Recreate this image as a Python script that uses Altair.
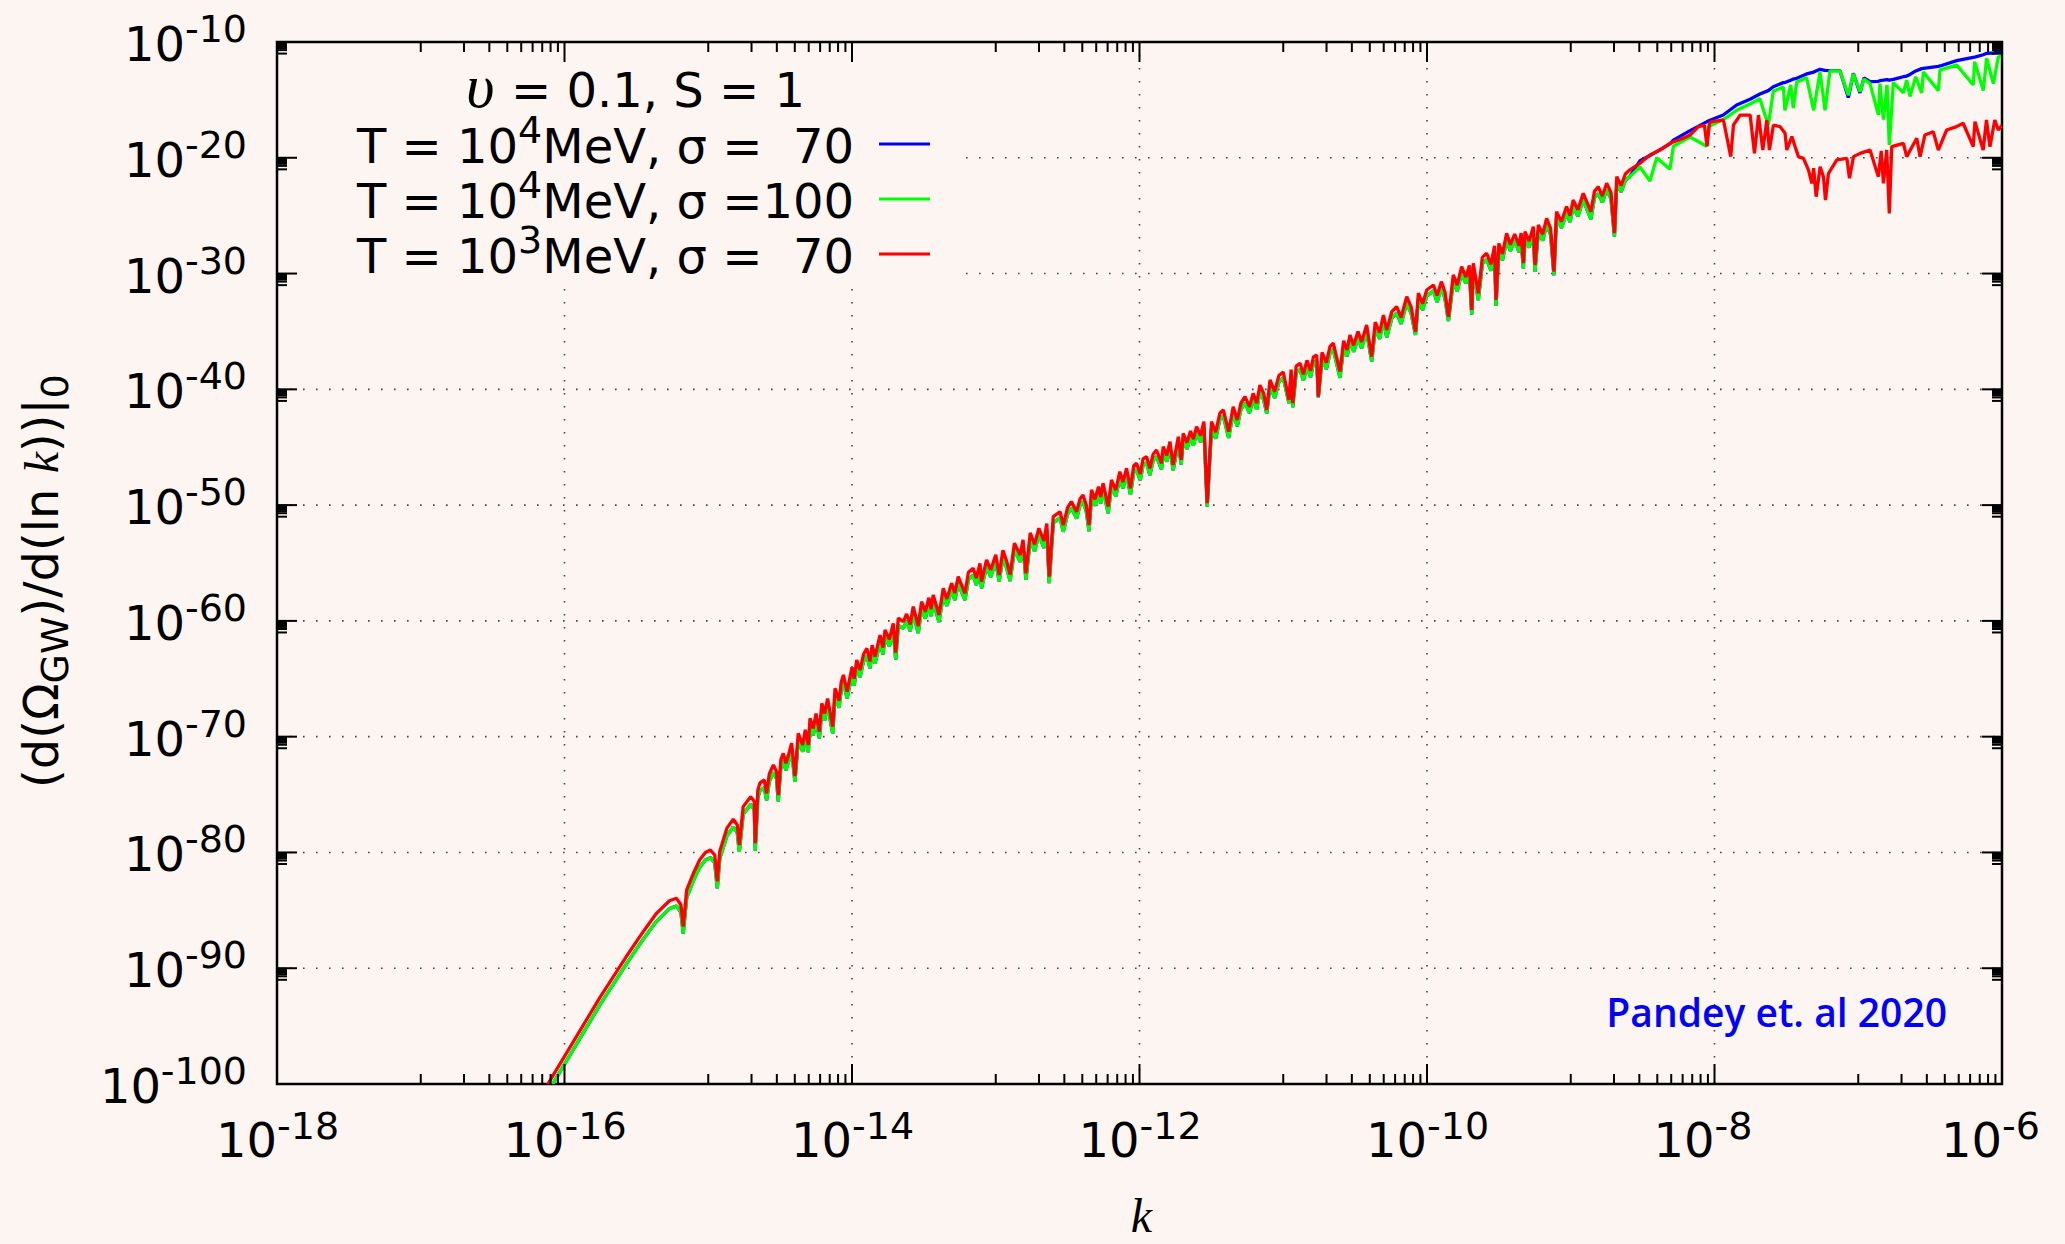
import altair as alt
import pandas as pd

# ---------------------------------------------------------------------------
# Spectrum d(Omega_GW)/d(ln k) today, stored as log10 values.
# Region A: red and green share sample positions; blue coincides with green.
# ---------------------------------------------------------------------------
K_A = [
    -16.13, -15.75, -15.57, -15.45, -15.36, -15.27, -15.22, -15.19,
    -15.174, -15.15, -15.10, -15.06, -15.02, -14.985, -14.955, -14.937,
    -14.92, -14.87, -14.826, -14.798, -14.784, -14.757, -14.705, -14.68,
    -14.673, -14.655, -14.64, -14.61, -14.594, -14.575, -14.547, -14.525,
    -14.513, -14.495, -14.478, -14.46, -14.44, -14.42, -14.397, -14.374,
    -14.343, -14.325, -14.304, -14.292, -14.27, -14.25, -14.227, -14.21,
    -14.19, -14.17, -14.134, -14.118, -14.09, -14.075, -14.06, -14.034,
    -14.0, -13.985, -13.967, -13.944, -13.92, -13.897, -13.875, -13.86,
    -13.84, -13.805, -13.785, -13.77, -13.74, -13.713, -13.696, -13.678,
    -13.643, -13.62, -13.595, -13.574, -13.539, -13.516, -13.49, -13.465,
    -13.45, -13.435, -13.395, -13.365, -13.34, -13.307, -13.285, -13.261,
    -13.214, -13.19, -13.157, -13.135, -13.11, -13.099, -13.064, -13.035,
    -13.0, -12.976, -12.95, -12.925, -12.9, -12.87, -12.83, -12.81,
    -12.79, -12.76, -12.73, -12.7, -12.665, -12.645, -12.628, -12.6,
    -12.553, -12.53, -12.5, -12.474, -12.437, -12.415, -12.393, -12.37,
    -12.351, -12.334, -12.31, -12.285, -12.27, -12.253, -12.218, -12.195,
    -12.165, -12.137, -12.115, -12.09, -12.063, -12.04, -12.021, -11.995,
    -11.975, -11.951, -11.928, -11.905, -11.882, -11.847, -11.835, -11.81,
    -11.788, -11.766, -11.73, -11.71, -11.696, -11.67, -11.645, -11.625,
    -11.603, -11.575, -11.552, -11.529, -11.499, -11.47, -11.441, -11.417,
    -11.38, -11.348, -11.32, -11.295, -11.266, -11.235, -11.209, -11.185,
    -11.162, -11.135, -11.115, -11.092, -11.06, -11.03, -11.0, -10.96,
    -10.945, -10.934, -10.91, -10.883, -10.86, -10.835, -10.81, -10.79,
    -10.767, -10.756, -10.73, -10.7, -10.675, -10.652, -10.605, -10.58,
    -10.556, -10.536, -10.51, -10.48, -10.455, -10.42, -10.385, -10.36,
    -10.33, -10.303, -10.28, -10.245, -10.211, -10.18, -10.141, -10.11,
    -10.08, -10.06, -10.03, -10.002, -9.955, -9.93, -9.9, -9.875,
    -9.851, -9.817, -9.79, -9.759, -9.73, -9.705, -9.689, -9.678,
    -9.643, -9.615, -9.585, -9.555, -9.53, -9.52, -9.5, -9.475,
    -9.446, -9.42, -9.39, -9.36, -9.345, -9.33, -9.318, -9.29,
    -9.26, -9.249, -9.225, -9.195, -9.168, -9.14, -9.117, -9.099,
    -9.065, -9.029, -9.005, -8.983, -8.95, -8.913, -8.86, -8.835,
    -8.809, -8.78, -8.75, -8.72, -8.696, -8.68, -8.65, -8.62,
    -8.591,
]
RED_A = [
    -100.3, -92.45, -88.99, -86.8, -85.26, -84.17, -83.96, -84.54,
    -86.4, -83.24, -81.7, -80.65, -80.0, -79.79, -80.22, -82.5,
    -79.9, -77.9, -77.13, -77.63, -79.36, -76.05, -75.18, -75.6,
    -79.2, -74.6, -74.0, -73.74, -74.9, -73.2, -72.45, -73.0,
    -75.04, -72.0, -71.44, -72.3, -71.5, -70.57, -73.4, -69.71,
    -70.72, -69.4, -70.72, -68.41, -69.3, -68.0, -69.57, -67.12,
    -68.0, -66.7, -69.14, -65.82, -66.9, -65.3, -64.67, -66.11,
    -64.0, -65.0, -63.38, -64.24, -62.9, -62.37, -63.5, -62.1,
    -63.09, -61.22, -62.3, -60.79, -61.6, -60.21, -62.75, -59.77,
    -60.07, -59.4, -60.3, -58.77, -60.44, -58.34, -59.2, -58.0,
    -59.0, -57.76, -59.49, -57.19, -58.1, -56.75, -57.6, -56.18,
    -57.62, -55.8, -55.46, -56.3, -55.03, -56.61, -54.74, -55.6,
    -54.3, -56.04, -53.9, -54.8, -56.0, -53.3, -54.3, -53.0,
    -55.89, -52.4, -53.4, -52.0, -53.1, -51.6, -56.18, -51.0,
    -50.57, -51.72, -50.2, -49.7, -50.57, -49.5, -49.13, -50.0,
    -51.72, -48.69, -49.5, -48.4, -49.3, -48.11, -50.13, -47.83,
    -48.7, -47.11, -48.0, -46.82, -48.55, -46.6, -46.39, -47.3,
    -46.0, -45.81, -46.82, -45.6, -45.24, -46.39, -44.95, -45.7,
    -44.52, -46.53, -44.09, -46.1, -43.8, -44.6, -43.6, -44.3,
    -43.22, -44.0, -42.79, -49.84, -42.79, -43.7, -42.07, -41.78,
    -43.66, -41.5, -42.65, -41.2, -40.63, -41.5, -40.35, -41.2,
    -39.63, -40.4, -41.78, -39.19, -40.2, -38.8, -38.5, -40.92,
    -38.3, -41.2, -38.0, -37.75, -38.7, -37.5, -38.4, -37.2,
    -37.03, -40.63, -36.8, -37.7, -36.3, -36.02, -38.47, -35.8,
    -36.6, -35.31, -36.2, -35.0, -35.9, -34.44, -37.18, -34.2,
    -35.1, -33.58, -34.87, -33.3, -32.86, -33.8, -32.0, -32.9,
    -35.02, -31.7, -32.6, -31.42, -30.99, -31.9, -30.7, -31.6,
    -33.73, -30.12, -31.0, -29.41, -30.3, -29.3, -33.15, -29.11,
    -31.71, -28.6, -28.25, -29.2, -27.6, -32.28, -27.4, -28.3,
    -26.53, -27.5, -26.6, -27.6, -26.5, -29.11, -26.38, -27.2,
    -25.95, -29.26, -25.8, -26.6, -25.23, -26.1, -29.83, -24.65,
    -25.5, -24.22, -25.0, -23.65, -24.5, -23.07, -24.65, -22.9,
    -22.5, -23.3, -22.2, -23.0, -26.5, -21.63, -22.4, -21.4,
    -21.06,
]
GREEN_A = [
    -101.0, -93.1, -89.65, -87.45, -85.95, -84.85, -84.62, -85.2,
    -87.0, -83.9, -82.35, -81.3, -80.65, -80.45, -80.9, -83.1,
    -80.55, -78.55, -77.8, -78.3, -79.95, -76.7, -75.85, -76.3,
    -79.86, -75.25, -74.65, -74.4, -75.5, -73.85, -73.1, -73.6,
    -75.6, -72.65, -72.1, -72.9, -72.1, -71.2, -73.9, -70.35,
    -71.3, -70.0, -71.35, -69.05, -69.9, -68.65, -70.15, -67.75,
    -68.6, -67.3, -69.75, -66.45, -67.5, -65.95, -65.3, -66.7,
    -64.6, -65.6, -64.0, -64.85, -63.5, -63.0, -64.1, -62.7,
    -63.7, -61.85, -62.9, -61.4, -62.2, -60.85, -63.35, -60.4,
    -60.65, -60.0, -60.9, -59.4, -61.05, -58.95, -59.8, -58.6,
    -59.6, -58.35, -60.1, -57.8, -58.7, -57.35, -58.2, -56.8,
    -58.2, -56.4, -56.05, -56.9, -55.6, -57.2, -55.3, -56.2,
    -54.9, -56.6, -54.45, -55.4, -56.55, -53.85, -54.9, -53.55,
    -56.45, -52.95, -54.0, -52.55, -53.7, -52.15, -56.75, -51.55,
    -51.1, -52.3, -50.75, -50.25, -51.15, -50.05, -49.7, -50.55,
    -52.25, -49.25, -50.05, -48.95, -49.85, -48.65, -50.7, -48.35,
    -49.25, -47.65, -48.55, -47.35, -49.1, -47.15, -46.95, -47.85,
    -46.55, -46.35, -47.4, -46.15, -45.8, -46.9, -45.5, -46.25,
    -45.05, -47.0, -44.6, -46.5, -44.35, -45.15, -44.1, -44.85,
    -43.75, -44.55, -43.3, -50.13, -43.35, -44.25, -42.6, -42.3,
    -44.2, -42.0, -43.2, -41.75, -41.15, -42.05, -40.85, -41.75,
    -40.15, -40.95, -42.1, -39.7, -40.75, -39.35, -39.0, -41.2,
    -38.8, -41.55, -38.55, -38.3, -39.25, -38.05, -38.95, -37.75,
    -37.55, -40.7, -37.35, -38.25, -36.85, -36.55, -39.0, -36.35,
    -37.15, -35.85, -36.75, -35.55, -36.45, -35.0, -37.6, -34.75,
    -35.65, -34.1, -35.5, -33.85, -33.4, -34.35, -32.55, -33.45,
    -35.3, -32.25, -33.15, -31.95, -31.5, -32.45, -31.25, -32.15,
    -34.1, -30.65, -31.55, -29.95, -30.85, -29.85, -33.55, -29.65,
    -32.3, -29.15, -28.8, -29.75, -28.15, -32.8, -27.95, -28.85,
    -27.1, -28.05, -27.15, -28.15, -27.05, -29.55, -26.95, -27.75,
    -26.5, -29.85, -26.35, -27.15, -25.8, -26.65, -30.15, -25.2,
    -26.05, -24.8, -25.55, -24.25, -25.05, -23.65, -25.3, -23.45,
    -23.1, -23.85, -22.75, -23.55, -26.8, -22.2, -22.95, -21.95,
    -21.65,
]

# Region B: the three curves separate above k ~ 3e-9
K_RED_B = [
    -8.519, -8.449, -8.38, -8.31, -8.217, -8.17, -8.112, -8.07,
    -8.052, -8.035, -8.019, -7.938, -7.887, -7.868, -7.822, -7.752,
    -7.722, -7.694, -7.664, -7.636, -7.618, -7.59, -7.544, -7.509,
    -7.497, -7.462, -7.439, -7.416, -7.381, -7.346, -7.323, -7.31,
    -7.293, -7.265, -7.242, -7.228, -7.207, -7.149, -7.079, -7.061,
    -7.033, -6.987, -6.918, -6.86, -6.84, -6.825, -6.802, -6.784,
    -6.767, -6.686, -6.663, -6.593, -6.57, -6.536, -6.478, -6.443,
    -6.385, -6.316, -6.27, -6.2, -6.188, -6.131, -6.108, -6.084,
    -6.05, -6.026, -6.0,
]
RED_B = [
    -20.48, -19.76, -19.33, -18.75, -18.32, -18.03, -17.31, -17.2,
    -19.0, -17.0, -16.88, -16.74, -19.9, -17.17, -16.31, -16.31,
    -19.62, -16.31, -19.33, -16.74, -19.33, -17.17, -17.31, -17.89,
    -19.33, -18.17, -19.04, -19.9, -20.05, -21.06, -22.21, -20.9,
    -23.36, -20.77, -21.63, -23.65, -21.34, -20.19, -20.05, -21.77,
    -19.9, -19.62, -19.33, -21.63, -19.4, -22.21, -19.33, -24.8,
    -19.04, -18.75, -19.9, -18.32, -19.9, -18.03, -17.75, -19.33,
    -17.6, -17.31, -17.02, -19.04, -16.88, -19.33, -16.74, -19.04,
    -16.74, -17.6, -17.2,
]
K_GB_B = [
    -8.518, -8.449, -8.402, -8.31, -8.286, -8.17, -8.055, -8.04,
    -7.939, -7.846, -7.753, -7.684, -7.626, -7.591, -7.521, -7.51,
    -7.47, -7.452, -7.428, -7.359, -7.31, -7.266, -7.231, -7.197,
    -7.127, -7.069, -7.034, -6.988, -6.96, -6.918, -6.86, -6.849,
    -6.825, -6.8, -6.784, -6.756, -6.686, -6.663, -6.64, -6.6,
    -6.559, -6.547, -6.443, -6.431, -6.315, -6.2, -6.19, -6.13,
    -6.107, -6.06, -6.026, -6.0,
]
GREEN_B = [
    -20.8, -22.0, -20.0, -21.0, -19.0, -18.2, -19.0, -17.3,
    -16.7, -15.9, -15.35, -14.9, -17.2, -14.25, -13.9, -15.9,
    -13.7, -15.7, -13.45, -13.1, -15.9, -12.6, -15.9, -12.5,
    -12.5, -14.6, -12.75, -14.3, -13.2, -13.6, -16.3, -13.6,
    -16.7, -13.7, -18.9, -13.5, -14.4, -13.3, -14.7, -13.0,
    -14.4, -12.6, -14.2, -12.4, -12.0, -13.7, -11.7, -14.2,
    -11.4, -13.6, -11.3, -11.2,
]
BLUE_B = [
    -20.25, -19.8, -19.47, -18.8, -18.47, -17.66, -16.9, -16.8,
    -16.31, -15.44, -14.95, -14.49, -14.2, -13.86, -13.51, -13.5,
    -13.3, -13.2, -13.14, -12.76, -12.6, -12.36, -12.45, -12.48,
    -12.48, -14.8, -12.71, -14.4, -13.1, -13.43, -13.4, -13.34,
    -13.3, -13.25, -13.3, -13.22, -13.0, -12.94, -12.8, -12.5,
    -12.3, -12.27, -12.1, -12.07, -11.61, -11.32, -11.3, -11.1,
    -10.98, -10.95, -10.92, -10.9,
]

assert len(K_A) == len(RED_A) == len(GREEN_A)
assert len(K_RED_B) == len(RED_B)
assert len(K_GB_B) == len(GREEN_B) == len(BLUE_B)

# Axis decades
X_MAJOR_EXP = [-18, -16, -14, -12, -10, -8, -6]
Y_MAJOR_EXP = [-100, -90, -80, -70, -60, -50, -40, -30, -20, -10]

# Legend
LEGEND_TITLE_SYMBOL = "υ"
LEGEND_TITLE_REST = "= 0.1, S = 1"
LEGEND_T_EXP = ["4", "4", "3"]
LEGEND_SIGMA = ["MeV, σ =\u00a0\u00a070", "MeV, σ =100", "MeV, σ =\u00a0\u00a070"]
LEGEND_COLORS = ["#0000ff", "#00ff00", "#ff0000"]
CREDIT = "Pandey et. al 2020"

BG = "#fdf5f2"
W, H = 1725, 1042
FONT = "DejaVu Sans"

xs = alt.Scale(type="log", domain=[1e-18, 1e-6], nice=False)
ys = alt.Scale(type="log", domain=[1e-100, 1e-10], nice=False)


def curve(ks, vals):
    return pd.DataFrame({
        "k": [10.0 ** k for k in ks],
        "omega": [10.0 ** v for v in vals],
        "i": list(range(len(ks))),
    })


def line(df, color):
    return alt.Chart(df).mark_line(
        color=color, strokeWidth=3.3, clip=True, strokeJoin="bevel"
    ).encode(
        x=alt.X("k:Q", scale=xs, axis=None),
        y=alt.Y("omega:Q", scale=ys, axis=None),
        order="i:Q",
    )


blue = line(curve(K_A + K_GB_B, GREEN_A + BLUE_B), "#0000ff")
green = line(curve(K_A + K_GB_B, GREEN_A + GREEN_B), "#00ff00")
red = line(curve(K_A + K_RED_B, RED_A + RED_B), "#ff0000")

# ---------------- grid, ticks ----------------
xgrid = pd.DataFrame({"v": [10.0 ** e for e in X_MAJOR_EXP[1:-1]]})
ygrid = pd.DataFrame({"v": [10.0 ** e for e in Y_MAJOR_EXP[1:-1]]})
grid_style = dict(color="#444444", strokeWidth=1.6, strokeDash=[1.6, 11.4])
grid_x = alt.Chart(xgrid).mark_rule(**grid_style).encode(
    x=alt.X("v:Q", scale=xs, axis=None), y=alt.value(0), y2=alt.value(H))
grid_y = alt.Chart(ygrid).mark_rule(**grid_style).encode(
    y=alt.Y("v:Q", scale=ys, axis=None), x=alt.value(0), x2=alt.value(W))

# key box hides the grid behind the legend
key_box = alt.Chart(pd.DataFrame({"a": [0]})).mark_rect(fill=BG).encode(
    x=alt.value(2), x2=alt.value(678), y=alt.value(2), y2=alt.value(243))

x_major = pd.DataFrame({"v": [10.0 ** e for e in X_MAJOR_EXP]})
x_minor = pd.DataFrame({"v": [k * 10.0 ** (e - 1) for e in X_MAJOR_EXP[1:] for k in range(1, 10)]})
y_major = pd.DataFrame({"v": [10.0 ** e for e in Y_MAJOR_EXP]})
y_minor = pd.DataFrame({"v": [k * 10.0 ** (e - 1) for e in Y_MAJOR_EXP[1:] for k in range(1, 10)]})

tick_style = dict(color="black", strokeWidth=2)


def xticks(df, length):
    enc = alt.X("v:Q", scale=xs, axis=None)
    bottom = alt.Chart(df).mark_rule(**tick_style).encode(
        x=enc, y=alt.value(H), y2=alt.value(H - length))
    top = alt.Chart(df).mark_rule(**tick_style).encode(
        x=enc, y=alt.value(0), y2=alt.value(length))
    return [bottom, top]


def yticks(df, length):
    enc = alt.Y("v:Q", scale=ys, axis=None)
    left = alt.Chart(df).mark_rule(**tick_style).encode(
        y=enc, x=alt.value(0), x2=alt.value(length))
    right = alt.Chart(df).mark_rule(**tick_style).encode(
        y=enc, x=alt.value(W), x2=alt.value(W - length))
    return [left, right]


ticks = xticks(x_major, 20) + xticks(x_minor, 10) + yticks(y_major, 20) + yticks(y_minor, 10)

# ---------------- tick labels (10 with raised exponent) ----------------
xlab = pd.DataFrame({
    "v": [10.0 ** e for e in X_MAJOR_EXP],
    "base": ["10"] * len(X_MAJOR_EXP),
    "ex": [str(e) for e in X_MAJOR_EXP],
})
xlab_base = alt.Chart(xlab).mark_text(
    align="right", baseline="alphabetic", font=FONT, fontSize=48, color="black"
).encode(x=alt.X("v:Q", scale=xs, axis=None), y=alt.value(H + 73), text="base:N")
xlab_ex = alt.Chart(xlab).mark_text(
    align="left", baseline="alphabetic", font=FONT, fontSize=38, color="black"
).encode(x=alt.X("v:Q", scale=xs, axis=None), y=alt.value(H + 55), text="ex:N")

ylab = pd.DataFrame({
    "v": [10.0 ** e for e in Y_MAJOR_EXP],
    "base": ["10"] * len(Y_MAJOR_EXP),
    "ex": [str(e) for e in Y_MAJOR_EXP],
})
ylab_ex = alt.Chart(ylab).mark_text(
    align="right", baseline="alphabetic", font=FONT, fontSize=38, color="black"
).encode(y=alt.Y("v:Q", scale=ys, axis=None), x=alt.value(-30), text="ex:N")
ylab_base_short = alt.Chart(ylab).transform_filter("length(datum.ex) < 4").mark_text(
    align="right", baseline="alphabetic", font=FONT, fontSize=48, color="black", dy=19
).encode(y=alt.Y("v:Q", scale=ys, axis=None), x=alt.value(-92), text="base:N")
ylab_base_long = alt.Chart(ylab).transform_filter("length(datum.ex) >= 4").mark_text(
    align="right", baseline="alphabetic", font=FONT, fontSize=48, color="black", dy=19
).encode(y=alt.Y("v:Q", scale=ys, axis=None), x=alt.value(-116), text="base:N")


def label(text, x, y, size=48, font=FONT, style="normal", angle=0, align="left",
          color="black", weight="normal"):
    kw = dict(align=align, baseline="alphabetic", font=font, fontSize=size,
              fontStyle=style, color=color, fontWeight=weight)
    if angle:
        kw["angle"] = angle
    return alt.Chart(pd.DataFrame({"t": [text]})).mark_text(**kw).encode(
        x=alt.value(x), y=alt.value(y), text="t:N")


# ---------------- axis titles ----------------
TX = -219
y_title = [
    label("(d(Ω", TX, 746, angle=270),
    label("GW", TX + 10, 641.4, size=38, angle=270),
    label(")/d(ln", TX, 574.4, angle=270),
    label("k", TX, 431.3, font="Liberation Serif", style="italic", angle=270),
    label("))|", TX, 410.0, angle=270),
    label("0", TX + 10, 356.4, size=38, angle=270),
]
x_title = label("k", W / 2 + 2, H + 148, size=48, font="Liberation Serif",
                style="italic", align="center")

# ---------------- legend ----------------
legend = [
    label(LEGEND_TITLE_SYMBOL, 189, 65, size=62, font="Liberation Serif", style="italic"),
    label(LEGEND_TITLE_REST, 234, 65),
]
for row in range(3):
    base_y = 121 + 55 * row
    legend += [
        label("T = 10", 80, base_y),
        label(LEGEND_T_EXP[row], 241, base_y - 20, size=38),
        label(LEGEND_SIGMA[row], 265.3, base_y),
    ]
    legend.append(
        alt.Chart(pd.DataFrame({"a": [0]})).mark_rule(
            color=LEGEND_COLORS[row], strokeWidth=3
        ).encode(x=alt.value(602), x2=alt.value(653),
                 y=alt.value(base_y - 19), y2=alt.value(base_y - 19))
    )

credit = label(CREDIT, 1670, 985, size=39, font="Open Sans", align="right",
               color="#0000ff", weight=600)

chart = alt.layer(
    grid_x, grid_y, key_box, blue, green, red, *ticks,
    xlab_base, xlab_ex, ylab_ex, ylab_base_short, ylab_base_long,
    *y_title, x_title, *legend, credit,
).properties(
    width=W, height=H,
    padding={"left": 277, "top": 42, "right": 63, "bottom": 160},
    autosize=alt.AutoSizeParams(type="none"),
    background=BG,
).configure_view(stroke="black", strokeWidth=2.5, fill=BG)

chart.save("out.html", embed_options={"renderer": "svg", "actions": False})
